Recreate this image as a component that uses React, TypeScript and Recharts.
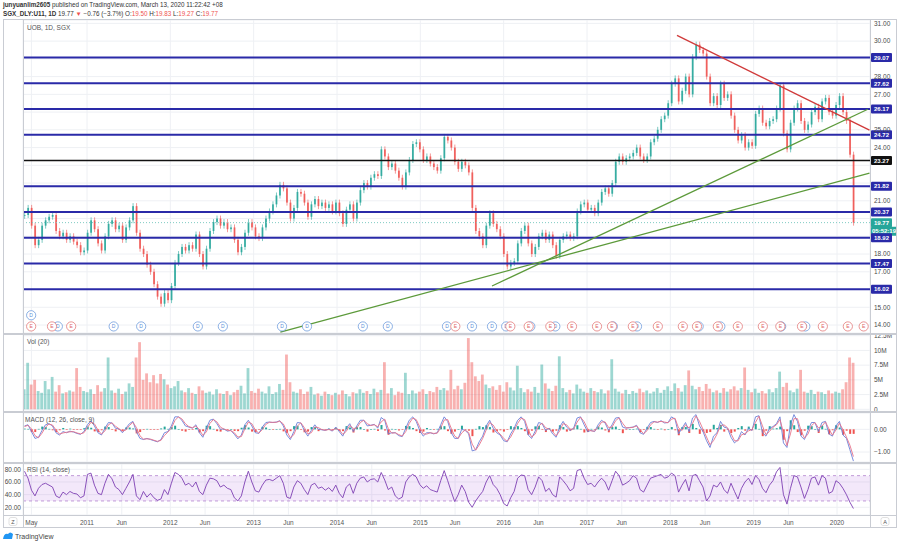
import {
  Bar,
  CartesianGrid,
  ComposedChart,
  Line,
  ReferenceArea,
  ReferenceDot,
  ReferenceLine,
  XAxis,
  YAxis,
} from "recharts";

// half-monthly closes, Apr 2010 -> 13 Mar 2020
const closes = [
  20.2, 20.6, 19.6, 18.5, 18.8, 19.6, 19.9, 20.1, 20.2, 19.3,
  19.0, 19.2, 18.8, 19.0, 18.7, 18.5, 18.1, 18.2, 19.2, 19.9,
  19.4, 18.6, 18.2, 19.0, 19.7, 19.9, 19.4, 19.6, 18.8, 19.5,
  19.9, 20.7, 19.2, 18.3, 18.0, 17.4, 17.0, 16.3, 15.6, 15.2,
  15.8, 15.4, 16.2, 17.5, 18.0, 18.4, 18.2, 18.5, 18.3, 19.1,
  18.0, 17.3, 18.3, 19.3, 19.8, 20.0, 19.6, 19.8, 19.4, 19.5,
  18.8, 18.1, 18.4, 19.2, 19.8, 19.5, 19.0, 18.9, 19.5, 20.0,
  20.4, 20.8, 21.3, 21.9, 21.7, 20.9, 20.0, 20.6, 21.5, 21.4,
  20.9, 20.1, 20.8, 21.1, 20.7, 20.9, 20.6, 20.8, 20.4, 20.9,
  20.3, 19.7, 20.5, 20.8, 20.0, 20.9, 21.6, 22.0, 21.8, 22.3,
  22.5, 22.4, 23.9, 23.5, 22.9, 23.1, 22.7, 22.3, 21.8, 22.6,
  23.3, 24.2, 24.3, 23.9, 23.3, 23.5, 23.1, 22.9, 22.7, 23.4,
  24.6, 24.4, 24.0, 23.2, 22.8, 23.2, 23.0, 22.6, 20.6, 19.3,
  19.0, 18.5, 19.6, 20.3, 19.7, 19.4, 19.0, 18.0, 17.3, 17.5,
  17.6, 18.6, 19.3, 19.6, 18.6, 18.0, 18.4, 19.0, 19.2, 18.8,
  19.1, 18.5, 17.9, 18.8, 19.0, 19.1, 18.9, 19.0, 20.4, 20.8,
  20.9, 20.5, 20.6, 20.3, 20.9, 21.5, 21.7, 21.4, 22.0, 23.2,
  23.5, 23.2, 23.4, 23.5, 23.7, 24.0, 23.5, 23.3, 23.5, 24.3,
  24.5, 25.0, 25.6, 25.8, 26.5, 27.6, 27.9, 26.6, 27.2, 28.0,
  27.0, 29.1, 29.8, 29.5, 29.3, 28.0, 26.5, 26.9, 26.4, 27.6,
  26.8, 27.0, 25.8, 25.0, 24.4, 24.7, 24.0, 24.3, 24.1, 25.9,
  26.2, 25.4, 25.2, 25.5, 25.6, 26.2, 27.5, 24.8, 23.9, 25.4,
  26.2, 26.5, 25.5, 25.0, 25.3, 26.0, 26.3, 25.6, 26.6, 26.8,
  26.0, 25.8, 26.4, 26.9, 26.0, 25.5, 23.6, 19.77,
];

// millions of shares
const volumes = [
  3.4, 7.9, 4.2, 5.0, 3.1, 2.8, 4.8, 3.4, 5.5, 3.0,
  4.1, 2.7, 2.9, 3.2, 3.0, 7.0, 3.8, 3.1, 2.9, 3.4,
  2.6, 4.1, 3.0, 3.6, 8.8, 3.2, 2.8, 3.5, 2.6, 3.0,
  4.4, 3.8, 8.8, 11.4, 5.0, 6.1, 4.6, 5.8, 4.4, 6.0,
  5.1, 4.2, 3.6, 3.9, 4.8, 3.2, 2.9, 3.6, 2.8, 2.6,
  3.9, 3.2, 2.8, 3.0, 2.5, 3.4, 2.7, 2.6, 3.1, 2.4,
  2.9, 3.3, 4.0, 2.7, 7.0, 3.1, 2.8, 3.5, 3.0, 2.7,
  3.9, 2.6, 2.9, 4.3, 3.3, 9.3, 4.6, 3.0, 2.8, 3.4,
  2.6, 3.0, 3.8, 2.5, 2.7, 2.3, 3.0, 2.6, 2.4, 2.8,
  2.5, 3.2, 2.6, 2.2, 2.9, 2.7, 3.4, 2.8, 3.1, 2.6,
  3.5, 2.9, 3.3, 8.0, 2.7, 3.6, 2.4, 3.0, 2.8, 6.2,
  2.6, 3.2, 2.7, 3.0, 3.4, 2.6, 3.1, 2.9, 3.8, 3.3,
  3.6, 3.2, 6.7, 3.4, 4.0, 3.4, 4.5, 12.1, 8.0, 5.6,
  4.8, 5.9, 4.2, 3.6, 3.9, 3.3, 4.1, 3.0, 4.6, 3.7,
  3.2, 7.4, 3.6, 2.9, 3.4, 3.0, 3.8, 2.8, 7.6, 4.4,
  3.5, 3.1, 4.0, 9.0, 3.6, 2.9, 3.3, 2.7, 4.2, 3.5,
  3.0, 2.8, 3.6, 3.1, 2.9, 3.4, 2.7, 3.2, 8.5, 3.5,
  3.0, 2.7, 3.3, 2.6, 3.1, 2.8, 3.5, 2.9, 3.2, 2.7,
  3.0, 3.6, 2.8, 3.3, 3.9, 3.1, 4.4, 3.6, 3.0, 4.1,
  6.6, 4.0, 3.4, 3.8, 3.1, 4.3, 3.5, 2.9, 3.2, 2.8,
  3.6, 3.0, 3.4, 3.9, 3.2, 3.6, 7.1, 3.3, 2.9, 3.5,
  2.8, 3.1, 2.7, 3.4, 2.9, 3.6, 6.4, 3.8, 4.5, 3.2,
  2.9, 3.5, 6.7, 3.0, 2.8, 3.3, 2.6, 3.0, 2.9, 2.6,
  3.2, 2.7, 3.0, 2.8, 3.4, 4.6, 8.8, 7.9,
];

const macdLine = [
  0.15, 0.2, -0.1, -0.4, -0.35, -0.05, 0.2, 0.25, 0.15, -0.15,
  -0.25, -0.1, -0.15, -0.08, -0.12, -0.18, -0.22, -0.1, 0.2, 0.38,
  0.15, -0.15, -0.25, 0.05, 0.3, 0.28, 0.05, 0.02, -0.15, 0.05,
  0.25, 0.35, -0.1, -0.4, -0.45, -0.4, -0.45, -0.5, -0.55, -0.45,
  -0.15, -0.1, 0.15, 0.55, 0.55, 0.4, 0.15, 0.1, 0.05, 0.2,
  -0.15, -0.35, 0.05, 0.4, 0.45, 0.25, 0.0, 0.02, -0.08, -0.05,
  -0.22, -0.42, -0.25, 0.2, 0.4, 0.15, -0.15, -0.18, 0.1, 0.3,
  0.32, 0.3, 0.32, 0.38, 0.15, -0.25, -0.45, -0.1, 0.3, 0.28,
  -0.05, -0.3, -0.05, 0.2, 0.0, -0.02, -0.05, 0.02, -0.08, 0.1,
  -0.1, -0.3, 0.05, 0.25, -0.1, 0.15, 0.4, 0.4, 0.15, 0.18,
  0.22, 0.05, 0.52, 0.4, -0.2, -0.15, -0.15, -0.28, -0.32, 0.05,
  0.4, 0.55, 0.35, -0.05, -0.3, -0.15, -0.15, -0.2, -0.15, 0.2,
  0.55, 0.35, -0.15, -0.4, -0.4, 0.0, -0.05, -0.2, -0.95, -0.9,
  -0.55, -0.3, 0.15, 0.4, 0.05, -0.15, -0.25, -0.5, -0.55, -0.2,
  0.05, 0.4, 0.55, 0.35, -0.25, -0.4, -0.08, 0.3, 0.25, -0.05,
  0.05, -0.2, -0.35, 0.1, 0.35, 0.1, -0.05, 0.05, 0.5, 0.55,
  0.2, -0.1, -0.05, -0.1, 0.2, 0.4, 0.28, -0.05, 0.2, 0.5,
  0.52, 0.1, 0.05, 0.08, 0.1, 0.18, -0.15, -0.22, 0.05, 0.3,
  0.35, 0.3, 0.38, 0.28, 0.3, 0.55, 0.45, -0.2, 0.05, 0.3,
  -0.1, 0.5, 0.65, 0.15, -0.1, -0.5, -0.8, -0.3, -0.15, 0.35,
  0.1, 0.05, -0.35, -0.6, -0.45, -0.1, -0.25, 0.05, -0.05, 0.55,
  0.6, -0.15, -0.3, 0.05, 0.12, 0.25, 0.55, -0.6, -0.8, 0.2,
  0.65, 0.35, -0.3, -0.45, -0.05, 0.3, 0.3, -0.1, 0.3, 0.35,
  -0.2, -0.3, 0.15, 0.35, -0.25, -0.4, -0.9, -1.4,
];

const signalLine = [
  0.12, 0.18, 0.02, -0.28, -0.37, -0.17, 0.1, 0.23, 0.19, -0.03,
  -0.21, -0.16, -0.13, -0.11, -0.1, -0.16, -0.2, -0.15, 0.08, 0.31,
  0.24, -0.03, -0.21, -0.07, 0.2, 0.29, 0.14, 0.03, -0.08, -0.03,
  0.17, 0.31, 0.08, -0.28, -0.43, -0.42, -0.43, -0.48, -0.53, -0.49,
  -0.27, -0.12, 0.05, 0.39, 0.55, 0.46, 0.25, 0.12, 0.07, 0.14,
  -0.01, -0.27, -0.11, 0.26, 0.43, 0.33, 0.1, 0.01, -0.04, -0.06,
  -0.15, -0.34, -0.32, 0.02, 0.32, 0.25, -0.03, -0.17, -0.01, 0.22,
  0.31, 0.31, 0.31, 0.36, 0.24, -0.09, -0.37, -0.24, 0.14, 0.29,
  0.08, -0.2, -0.15, 0.1, 0.08, -0.01, -0.04, -0.01, -0.04, 0.03,
  -0.02, -0.22, -0.09, 0.17, 0.04, 0.05, 0.3, 0.4, 0.25, 0.17,
  0.2, 0.12, 0.33, 0.45, 0.04, -0.17, -0.15, -0.23, -0.3, -0.1,
  0.26, 0.49, 0.43, 0.11, -0.2, -0.21, -0.15, -0.18, -0.17, 0.06,
  0.41, 0.43, 0.05, -0.3, -0.4, -0.16, -0.03, -0.14, -0.65, -0.92,
  -0.69, -0.4, -0.03, 0.3, 0.19, -0.07, -0.21, -0.4, -0.53, -0.34,
  -0.05, 0.26, 0.49, 0.43, -0.01, -0.34, -0.21, 0.15, 0.27, 0.07,
  0.01, -0.1, -0.29, -0.08, 0.25, 0.2, 0.01, 0.01, 0.32, 0.53,
  0.34, 0.02, -0.07, -0.08, 0.08, 0.32, 0.33, 0.08, 0.1, 0.38,
  0.51, 0.27, 0.07, 0.07, 0.09, 0.15, -0.02, -0.19, -0.06, 0.2,
  0.33, 0.32, 0.35, 0.32, 0.29, 0.45, 0.49, 0.06, -0.05, 0.2,
  0.06, 0.26, 0.59, 0.35, 0.0, -0.34, -0.68, -0.5, -0.21, 0.15,
  0.2, 0.07, -0.19, -0.5, -0.51, -0.24, -0.19, -0.07, -0.01, 0.31,
  0.58, 0.15, -0.24, -0.09, 0.09, 0.2, 0.43, -0.14, -0.72, -0.2,
  0.47, 0.47, -0.04, -0.39, -0.21, 0.16, 0.3, 0.06, 0.14, 0.33,
  0.02, -0.26, -0.03, 0.27, -0.01, -0.34, -0.7, -1.2,
];

const rsiValues = [
  77, 66, 47, 38, 50, 56, 58, 55, 52, 38,
  35, 44, 40, 45, 42, 41, 35, 38, 72, 74,
  55, 42, 40, 58, 72, 65, 52, 48, 40, 50,
  60, 72, 38, 32, 45, 36, 42, 35, 31, 33,
  48, 40, 58, 75, 72, 66, 55, 58, 52, 60,
  45, 40, 55, 66, 65, 62, 52, 55, 50, 48,
  35, 30, 38, 60, 77, 60, 46, 44, 55, 63,
  64, 62, 66, 70, 58, 36, 34, 52, 62, 58,
  48, 40, 55, 58, 50, 52, 47, 51, 45, 55,
  42, 35, 52, 57, 42, 58, 66, 68, 60, 64,
  65, 60, 75, 63, 48, 52, 38, 33, 36, 60,
  68, 72, 68, 56, 50, 54, 48, 46, 44, 62,
  78, 62, 45, 29, 40, 55, 45, 28, 20, 30,
  38, 45, 60, 70, 56, 50, 40, 26, 22, 35,
  45, 66, 71, 70, 48, 40, 52, 68, 62, 45,
  50, 40, 36, 68, 62, 55, 46, 50, 78, 80,
  66, 56, 58, 52, 60, 66, 60, 47, 62, 77,
  70, 55, 58, 62, 70, 66, 48, 44, 55, 66,
  68, 70, 72, 66, 68, 74, 70, 44, 55, 64,
  46, 70, 72, 62, 52, 30, 38, 55, 52, 60,
  48, 42, 58, 45, 33, 50, 60, 66, 56, 70,
  64, 50, 43, 55, 62, 76, 83, 40, 25, 50,
  70, 68, 52, 34, 48, 66, 68, 55, 70, 66,
  42, 45, 62, 58, 50, 40, 28, 18,
];

const levels = [29.07, 27.62, 26.17, 24.72, 23.27, 21.82, 20.37, 18.92, 17.47, 16.02];
const blackLevel = 23.27;

// hand-drawn trend lines: [year, price] at each end
const trendLines = [
  { from: [2018.08, 30.32], to: [2020.39, 24.98], color: "#d03a3a" },
  { from: [2015.86, 16.2], to: [2020.37, 26.16], color: "#5c9a3a" },
  { from: [2013.32, 13.6], to: [2020.39, 22.56], color: "#5c9a3a" },
];

const earnings = [
  2010.33, 2010.58, 2010.81, 2015.42, 2016.08, 2016.3, 2016.56, 2016.82,
  2017.12, 2017.3, 2017.55, 2017.85, 2018.15, 2018.32, 2018.57, 2018.81,
  2019.11, 2019.32, 2019.58, 2019.83, 2020.13, 2020.32,
];
const dividends = [
  2010.65, 2011.32, 2011.65, 2012.33, 2012.63, 2013.34, 2013.64, 2014.31,
  2014.61, 2015.32, 2015.62, 2015.86, 2016.03, 2016.32, 2016.62, 2017.31,
  2017.6, 2018.34, 2018.6, 2019.33, 2019.62,
];
const upperDividends = [2010.33];

const timeTicks = [
  { t: 2010.333, label: "May" },
  { t: 2011, label: "2011" },
  { t: 2011.417, label: "Jun" },
  { t: 2012, label: "2012" },
  { t: 2012.417, label: "Jun" },
  { t: 2013, label: "2013" },
  { t: 2013.417, label: "Jun" },
  { t: 2014, label: "2014" },
  { t: 2014.417, label: "Jun" },
  { t: 2015, label: "2015" },
  { t: 2015.417, label: "Jun" },
  { t: 2016, label: "2016" },
  { t: 2016.417, label: "Jun" },
  { t: 2017, label: "2017" },
  { t: 2017.417, label: "Jun" },
  { t: 2018, label: "2018" },
  { t: 2018.417, label: "Jun" },
  { t: 2019, label: "2019" },
  { t: 2019.417, label: "Jun" },
  { t: 2020, label: "2020" },
];

const priceTicks = [14, 15, 16, 17, 18, 19, 20, 21, 22, 23, 24, 25, 26, 27, 28, 29, 30, 31];
const hiddenPriceTicks = [16, 19, 20, 22, 23, 26, 29];
const volumeTicks = [0, 2.5, 5, 7.5, 10, 12.5];
const macdTicks = [0, -1];
const rsiTicks = [20, 40, 60, 80];

const START = 2010.25;
const END = 2020.197;
const X_DOMAIN: [number, number] = [2010.232, 2020.396];

const UP = "#26a69a";
const DOWN = "#ef5350";
const LEVEL = "#2a2aa8";
const GRID = "#eef0f4";
const FRAME = "#c9ccd3";
const AXIS_TEXT = "#4a4a4a";
const FONT = "'Liberation Sans', Arial, sans-serif";

const rows = closes.map((close, i) => {
  const open = i === 0 ? close : closes[i - 1];
  return {
    t: START + ((END - START) * i) / (closes.length - 1),
    open,
    close,
    up: close >= open,
    body: [Math.min(open, close), Math.max(open, close)],
    vol: volumes[i],
    macd: macdLine[i],
    signal: signalLine[i],
    hist: +(macdLine[i] - signalLine[i]).toFixed(2),
    rsi: rsiValues[i],
  };
});

const lastClose = closes[closes.length - 1];
const tickLabel = new Map(timeTicks.map((d) => [d.t, d.label]));

const Candle = (props: any) => {
  const { x, y, width, height, payload } = props;
  if (x == null || y == null) return null;
  const color = payload.up ? UP : DOWN;
  const top = height < 0 ? y + height : y;
  const h = Math.max(Math.abs(height), 0.8);
  const cx = x + width / 2;
  return (
    <g>
      <line x1={cx} x2={cx} y1={top - 3} y2={top + h + 3} stroke={color} strokeWidth={0.6} />
      <rect x={x} y={top} width={width} height={h} fill={color} fillOpacity={0.85} />
    </g>
  );
};

const VolumeBar = (props: any) => {
  const { x, y, width, height, payload } = props;
  if (x == null || y == null) return null;
  const top = height < 0 ? y + height : y;
  return (
    <rect
      x={x}
      y={top}
      width={width}
      height={Math.abs(height)}
      fill={payload.up ? UP : DOWN}
      fillOpacity={0.45}
    />
  );
};

const HistBar = (props: any) => {
  const { x, y, width, height, payload } = props;
  if (x == null || y == null) return null;
  const top = height < 0 ? y + height : y;
  return (
    <rect
      x={x}
      y={top}
      width={width}
      height={Math.max(Math.abs(height), 0.6)}
      fill={payload.hist >= 0 ? UP : DOWN}
    />
  );
};

const Tag = ({ viewBox, text, fill, width = 21, dy = 0 }: any) => {
  if (!viewBox) return null;
  const x = viewBox.x + viewBox.width + 1;
  const y = viewBox.y + dy;
  return (
    <g>
      <rect x={x} y={y - 4.5} width={width} height={9} fill={fill} rx={1} />
      <text x={x + width / 2} y={y + 2.2} textAnchor="middle" fontSize={6} fontWeight="bold" fill="#fff">
        {text}
      </text>
    </g>
  );
};

const EventBadge = ({ cx, cy, letter, color }: any) => (
  <g>
    <circle cx={cx} cy={cy} r={4.6} fill="#fff" stroke={color} strokeWidth={0.7} />
    <text x={cx} y={cy + 1.9} textAnchor="middle" fontSize={5} fill={color}>
      {letter}
    </text>
  </g>
);

const xAxisProps = {
  type: "number" as const,
  dataKey: "t",
  domain: X_DOMAIN,
  ticks: timeTicks.map((d) => d.t),
  allowDataOverflow: true,
};

const tickStyle = { fontSize: 6.5, fill: AXIS_TEXT };

const PriceChart = () => (
  <ComposedChart width={900} height={313} data={rows} margin={{ top: 0, right: 3, bottom: 0, left: 23 }}>
    <CartesianGrid stroke={GRID} />
    <XAxis {...xAxisProps} hide />
    <YAxis
      orientation="right"
      width={27}
      domain={[13.55, 31.19]}
      ticks={priceTicks}
      interval={0}
      allowDataOverflow
      axisLine={false}
      tickLine={false}
      tickSize={2}
      tickMargin={2}
      tick={tickStyle}
      tickFormatter={(v: number) => (hiddenPriceTicks.includes(v) ? "" : v.toFixed(2))}
    />
    <ReferenceLine
      y={lastClose}
      stroke="#7fcbc3"
      strokeDasharray="1 2"
      label={<Tag text={lastClose.toFixed(2)} fill={UP} />}
    />
    <ReferenceLine
      y={lastClose}
      stroke="none"
      label={<Tag text="05:52:19" fill={UP} width={26} dy={8.5} />}
    />
    {levels.map((lv) => {
      const color = lv === blackLevel ? "#111" : LEVEL;
      return (
        <ReferenceLine
          key={lv}
          y={lv}
          stroke={color}
          strokeWidth={lv === blackLevel ? 1.5 : 2}
          label={<Tag text={lv.toFixed(2)} fill={color} />}
        />
      );
    })}
    <Bar dataKey="body" barSize={1.8} shape={Candle} isAnimationActive={false} />
    {trendLines.map((tl, i) => (
      <ReferenceLine
        key={i}
        segment={[
          { x: tl.from[0], y: tl.from[1] },
          { x: tl.to[0], y: tl.to[1] },
        ]}
        stroke={tl.color}
        strokeWidth={1.3}
        ifOverflow="visible"
      />
    ))}
    {upperDividends.map((t) => (
      <ReferenceDot
        key={`u${t}`}
        x={t}
        y={14.55}
        r={4.6}
        shape={(p: any) => <EventBadge cx={p.cx} cy={p.cy} letter="D" color="#5b8fd8" />}
      />
    ))}
    {dividends.map((t) => (
      <ReferenceDot
        key={`d${t}`}
        x={t}
        y={13.92}
        r={4.6}
        shape={(p: any) => <EventBadge cx={p.cx} cy={p.cy} letter="D" color="#5b8fd8" />}
      />
    ))}
    {earnings.map((t) => (
      <ReferenceDot
        key={`e${t}`}
        x={t}
        y={13.92}
        r={4.6}
        shape={(p: any) => <EventBadge cx={p.cx} cy={p.cy} letter="E" color="#e06868" />}
      />
    ))}
  </ComposedChart>
);

const VolumeChart = () => (
  <ComposedChart width={900} height={84} data={rows} margin={{ top: 4, right: 3, bottom: 4, left: 23 }}>
    <CartesianGrid stroke={GRID} />
    <XAxis {...xAxisProps} hide />
    <YAxis
      orientation="right"
      width={27}
      domain={[-0.29, 12.62]}
      ticks={volumeTicks}
      interval={0}
      allowDataOverflow
      axisLine={false}
      tickLine={false}
      tickSize={2}
      tickMargin={2}
      tick={tickStyle}
      tickFormatter={(v: number) => (v === 0 ? "0" : `${v}M`)}
    />
    <Bar dataKey="vol" barSize={2.8} shape={VolumeBar} isAnimationActive={false} />
  </ComposedChart>
);

const MacdChart = () => (
  <ComposedChart width={900} height={49} data={rows} margin={{ top: 0, right: 3, bottom: 0, left: 23 }}>
    <CartesianGrid stroke={GRID} />
    <XAxis {...xAxisProps} hide />
    <YAxis
      orientation="right"
      width={27}
      domain={[-1.44, 0.72]}
      ticks={macdTicks}
      interval={0}
      allowDataOverflow
      axisLine={false}
      tickLine={false}
      tickSize={2}
      tickMargin={2}
      tick={tickStyle}
      tickFormatter={(v: number) => (v < 0 ? `\u2212${Math.abs(v).toFixed(2)}` : v.toFixed(2))}
    />
    <Bar dataKey="hist" barSize={2} shape={HistBar} isAnimationActive={false} />
    <Line dataKey="macd" stroke="#6a7fd8" strokeWidth={0.9} dot={false} isAnimationActive={false} />
    <Line dataKey="signal" stroke="#e6738a" strokeWidth={0.9} dot={false} isAnimationActive={false} />
  </ComposedChart>
);

const RsiChart = () => (
  <ComposedChart width={900} height={64} data={rows} margin={{ top: 0, right: 30, bottom: 0, left: 3 }}>
    <CartesianGrid stroke={GRID} />
    <XAxis
      {...xAxisProps}
      height={13}
      axisLine={false}
      tickLine={false}
      tickSize={1}
      tickMargin={4}
      tick={{ fontSize: 6.5, fill: "#555" }}
      tickFormatter={(v: number) => tickLabel.get(v) ?? ""}
      interval={0}
    />
    <YAxis
      orientation="left"
      width={20}
      domain={[7.8, 88.4]}
      ticks={rsiTicks}
      interval={0}
      allowDataOverflow
      axisLine={false}
      tickLine={false}
      tickSize={1}
      tickMargin={1}
      tick={tickStyle}
      tickFormatter={(v: number) => v.toFixed(2)}
    />
    <ReferenceArea y1={30} y2={70} fill="#a64ad6" fillOpacity={0.13} stroke="none" />
    <ReferenceLine y={70} stroke="#c09ad8" strokeDasharray="3 3" />
    <ReferenceLine y={30} stroke="#c09ad8" strokeDasharray="3 3" />
    <Line dataKey="rsi" stroke="#7e3fb3" strokeWidth={0.9} dot={false} isAnimationActive={false} />
  </ComposedChart>
);

const Overlay = () => (
  <svg width={900} height={544} style={{ position: "absolute", left: 0, top: 0, pointerEvents: "none" }}>
    <text x={3} y={7} fontSize={6.3} fill="#333">
      <tspan fontWeight="bold">junyuanlim2605</tspan> published on TradingView.com, March 13, 2020 11:22:42 +08
    </text>
    <text x={3} y={16} fontSize={6.3} fill="#333">
      <tspan fontWeight="bold">SGX_DLY:U11, 1D</tspan> 19.77 <tspan fill={DOWN}>▼</tspan> −0.76 (−3.7%) O:
      <tspan fill={DOWN}>19.50</tspan> H:<tspan fill={DOWN}>19.83</tspan> L:<tspan fill={DOWN}>19.27</tspan> C:
      <tspan fill={DOWN}>19.77</tspan>
    </text>
    <rect x={3.5} y={19.5} width={893} height={508} fill="none" stroke={FRAME} />
    <line x1={23.5} x2={23.5} y1={20} y2={528} stroke={FRAME} />
    <line x1={870.5} x2={870.5} y1={20} y2={528} stroke={FRAME} />
    <rect x={3} y={333} width={894} height={2} fill={FRAME} />
    <rect x={3} y={411} width={894} height={2} fill={FRAME} />
    <rect x={3} y={462} width={894} height={2} fill={FRAME} />
    <rect x={3} y={515} width={894} height={1} fill={FRAME} />
    <text x={27} y={30} fontSize={6.5} fill="#555">UOB, 1D, SGX</text>
    <text x={27} y={344} fontSize={6.5} fill="#555">Vol (20)</text>
    <text x={25} y={422} fontSize={6.5} fill="#555">MACD (12, 26, close, 9)</text>
    <text x={27} y={472} fontSize={6.5} fill="#555">RSI (14, close)</text>
    <rect x={9} y={517.5} width={8} height={8} rx={2} fill="#fff" stroke="#ccc" strokeWidth={0.6} />
    <text x={13} y={524} fontSize={5.5} textAnchor="middle" fill="#555">Z</text>
    <rect x={881} y={517.5} width={8} height={8} rx={2} fill="#fff" stroke="#ccc" strokeWidth={0.6} />
    <text x={885} y={524} fontSize={5.5} textAnchor="middle" fill="#555">A</text>
    <path d="M3 539 Q4 533 8 534 Q10 531 13 534 L12 539 Z" fill="#2196f3" />
    <text x={15} y={539} fontSize={7} fill="#444">TradingView</text>
  </svg>
);

const App = () => (
  <div style={{ position: "relative", width: 900, height: 544, background: "#fff", fontFamily: FONT }}>
    <style>{"body{margin:0}"}</style>
    <div style={{ position: "absolute", left: 0, top: 20 }}>
      <PriceChart />
    </div>
    <div style={{ position: "absolute", left: 0, top: 331 }}>
      <VolumeChart />
    </div>
    <div style={{ position: "absolute", left: 0, top: 413 }}>
      <MacdChart />
    </div>
    <div style={{ position: "absolute", left: 0, top: 464 }}>
      <RsiChart />
    </div>
    <Overlay />
  </div>
);

export default App;
